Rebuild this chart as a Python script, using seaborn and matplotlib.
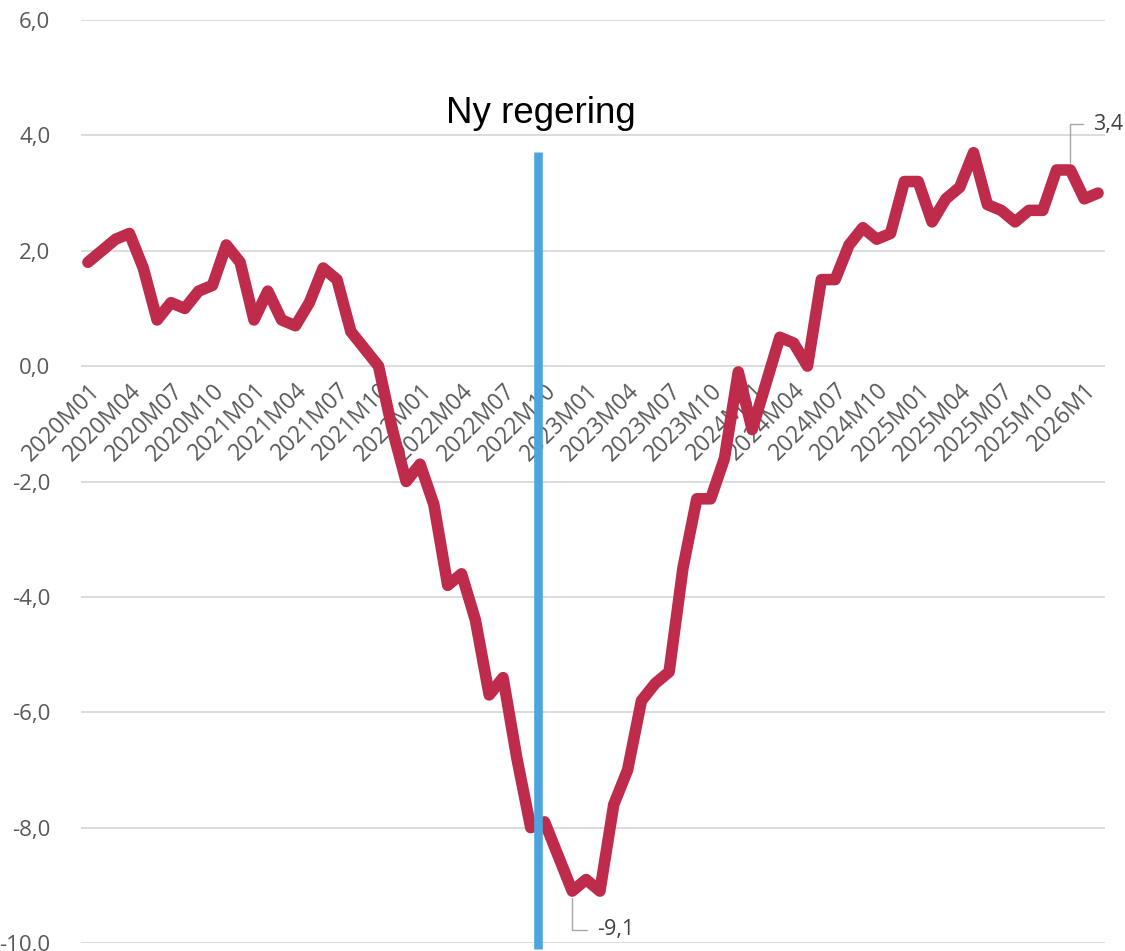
import numpy as np
import pandas as pd
import matplotlib
matplotlib.use("Agg")
import matplotlib.pyplot as plt
import seaborn as sns
from matplotlib.ticker import FuncFormatter

# Monthly values, 2020M01 - 2026M02
months = [f"{y}M{m:02d}" for y in range(2020, 2027) for m in range(1, 13)][:74]
values = [
    1.8, 2.0, 2.2, 2.3, 1.7, 0.8, 1.1, 1.0, 1.3, 1.4, 2.1, 1.8,      # 2020
    0.8, 1.3, 0.8, 0.7, 1.1, 1.7, 1.5, 0.6, 0.3, 0.0, -1.1, -2.0,    # 2021
    -1.7, -2.4, -3.8, -3.6, -4.4, -5.7, -5.4, -6.8, -8.0, -7.9, -8.5, -9.1,  # 2022
    -8.9, -9.1, -7.6, -7.0, -5.8, -5.5, -5.3, -3.5, -2.3, -2.3, -1.6, -0.1,  # 2023
    -1.1, -0.3, 0.5, 0.4, 0.0, 1.5, 1.5, 2.1, 2.4, 2.2, 2.3, 3.2,    # 2024
    3.2, 2.5, 2.9, 3.1, 3.7, 2.8, 2.7, 2.5, 2.7, 2.7, 3.4, 3.4,      # 2025
    2.9, 3.0,                                                        # 2026
]
tick_labels = [months[i] for i in range(0, 72, 3)] + ["2026M1"]
y_ticks = [-10, -8, -6, -4, -2, 0, 2, 4, 6]

# data labels shown on the chart
low_idx, low_val = 35, -9.1
high_idx, high_val = 71, 3.4
event_pos = 32.5          # between 2022M09 and 2022M10
event_label = "Ny regering"

df = pd.DataFrame({"month": months, "value": values})

sns.set_style("white")
plt.rcParams["font.family"] = ["Open Sans", "DejaVu Sans"]

fig = plt.figure(figsize=(11.25, 9.51), dpi=100)
ax = fig.add_axes([81 / 1125, 1 - 943 / 951, (1105 - 81) / 1125, (943 - 20) / 951])

sns.lineplot(data=df, x="month", y="value", ax=ax, sort=False,
             color="#BE2B4B", linewidth=8.3, solid_joinstyle="round",
             solid_capstyle="round", zorder=3)

# event line
ax.plot([event_pos, event_pos], [3.72, -10.1], color="#4EA5DE", linewidth=6.2,
        zorder=4, clip_on=False, solid_capstyle="butt")
ax.text(32.7, 4.38, event_label, ha="center", va="center", fontsize=26.5,
        family=["Liberation Sans", "DejaVu Sans"], color="black")

ax.set_xlim(-0.5, 73.5)
ax.set_ylim(-10, 6)
ax.set_yticks(y_ticks)
ax.yaxis.set_major_formatter(FuncFormatter(lambda v, p: f"{v:.1f}".replace(".", ",")))
ax.set_xticks(list(range(0, 74, 3)), labels=tick_labels)
ax.yaxis.grid(True, color="#D9D9D9", linewidth=1.3)
ax.xaxis.grid(False)
ax.set_axisbelow(True)

for s in ax.spines.values():
    s.set_visible(False)
ax.spines["bottom"].set_position(("data", 0))

ax.tick_params(axis="y", length=0, pad=22, labelsize=16, labelcolor="#595959")
ax.tick_params(axis="x", length=0, pad=9, labelsize=16.5, labelcolor="#595959")
for lab in ax.get_xticklabels():
    lab.set_rotation(45)
    lab.set_ha("right")
    lab.set_rotation_mode("anchor")

ax.set_xlabel("")
ax.set_ylabel("")

def fmt(v):
    return f"{v:.1f}".replace(".", ",")

ax.annotate(fmt(high_val), xy=(high_idx, high_val), xytext=(16.5, 33),
            textcoords="offset points", ha="left", va="center",
            fontsize=15.5, color="#404040",
            arrowprops=dict(arrowstyle="-", color="#A6A6A6", lw=1,
                            shrinkA=5, shrinkB=5,
                            connectionstyle="angle,angleA=0,angleB=90,rad=0"))
ax.annotate(fmt(low_val), xy=(low_idx, low_val), xytext=(18, -28),
            textcoords="offset points", ha="left", va="center",
            fontsize=15.5, color="#404040",
            arrowprops=dict(arrowstyle="-", color="#A6A6A6", lw=1,
                            shrinkA=5, shrinkB=5,
                            connectionstyle="angle,angleA=0,angleB=90,rad=0"))

fig.savefig("out.png", dpi=100)
